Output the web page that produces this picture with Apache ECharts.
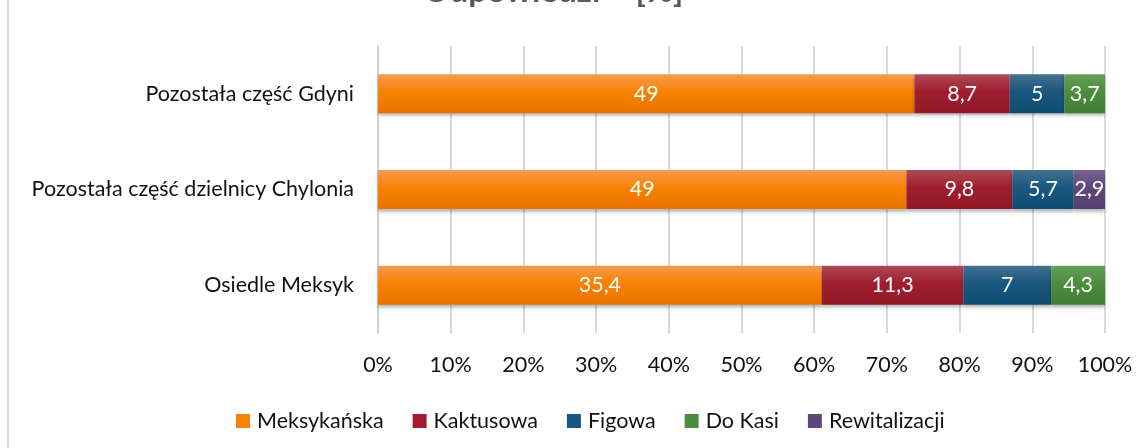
<!DOCTYPE html>
<html>
<head>
<meta charset="utf-8">
<script src="https://cdn.jsdelivr.net/npm/echarts@6/dist/echarts.min.js"></script>
<style>
  html, body { margin: 0; padding: 0; background: #fff; }
  #chart-container { width: 1146px; height: 448px; }
</style>
</head>
<body>
<div id="chart-container"></div>
<script>
// dane z wykresu (wartości w %)
const categories = ['Pozostała część Gdyni', 'Pozostała część dzielnicy Chylonia', 'Osiedle Meksyk'];
const seriesNames = ['Meksykańska', 'Kaktusowa', 'Figowa', 'Do Kasi', 'Rewitalizacji'];
const meksykanska = [49, 49, 35.4];
const kaktusowa = [8.7, 9.8, 11.3];
const figowa = [5, 5.7, 7];
const doKasi = [3.7, 0, 4.3];
const rewitalizacji = [0, 2.9, 0];
const xTicks = [0, 10, 20, 30, 40, 50, 60, 70, 80, 90, 100];

// kolory w stylu Excela: jaśniejsza góra, ciemniejszy dół
const colors = [
  ['#F89A52', '#F98100', '#E97300'],
  ['#AC4B58', '#A01D2D', '#931A28'],
  ['#46708F', '#18577F', '#114D72'],
  ['#65A05B', '#4D8C3D', '#427D35'],
  ['#7A6394', '#5E4779', '#54406E']
];

const raw = [meksykanska, kaktusowa, figowa, doKasi, rewitalizacji];
const totals = categories.map((c, i) => raw.reduce((s, arr) => s + arr[i], 0));

function grad(c) {
  return new echarts.graphic.LinearGradient(0, 0, 0, 1, [
    { offset: 0, color: c[0] },
    { offset: 0.45, color: c[1] },
    { offset: 1, color: c[2] }
  ]);
}

const font = 'Lato, "Open Sans", sans-serif';
const fs = 21.5;

const series = seriesNames.map((name, k) => ({
  name: name,
  type: 'bar',
  stack: 'total',
  barWidth: 39,
  itemStyle: {
    color: grad(colors[k]),
    shadowColor: 'rgba(0,0,0,0.28)',
    shadowBlur: 3,
    shadowOffsetY: 3
  },
  label: {
    show: true,
    position: 'inside',
    color: '#fff',
    fontFamily: font,
    fontSize: fs,
    formatter: p => raw[k][p.dataIndex] ? String(raw[k][p.dataIndex]).replace('.', ',') : ''
  },
  data: raw[k].map((v, i) => v ? v / totals[i] * 100 : null)
}));

const chartOption = {
  animation: false,
  title: {
    text: 'Odpowiedzi – [%]',
    left: 418,
    top: -30,
    textStyle: { fontFamily: font, fontSize: 33, fontWeight: 'bold', color: '#595959' }
  },
  legend: {
    data: seriesNames.map((n, k) => ({ name: n, itemStyle: { color: colors[k][1] } })),
    top: 410,
    left: 236,
    padding: 0,
    itemWidth: 14,
    itemHeight: 14,
    itemGap: 29,
    icon: 'rect',
    textStyle: { fontFamily: font, fontSize: fs, color: '#111', padding: [0, 0, 0, 2] }
  },
  grid: { left: 378, right: 41, top: 46, bottom: 115 },
  xAxis: {
    type: 'value',
    min: xTicks[0],
    max: xTicks[xTicks.length - 1],
    interval: 10,
    axisLine: { show: false },
    axisTick: { show: false },
    splitLine: { lineStyle: { color: '#D9D9D9', width: 2 } },
    axisLabel: { formatter: '{value}%', fontFamily: font, fontSize: fs, color: '#111', margin: 21 }
  },
  yAxis: {
    type: 'category',
    inverse: true,
    data: categories,
    axisLine: { lineStyle: { color: '#D0D0D0', width: 2 } },
    axisTick: { show: false },
    axisLabel: { fontFamily: font, fontSize: fs, color: '#111', margin: 24 }
  },
  graphic: [{
    type: 'rect',
    shape: { x: 7, y: 0, width: 2, height: 448 },
    style: { fill: '#D9D9D9' }
  }],
  series: series
};

const chartContainer = document.getElementById('chart-container');
const chart = echarts.init(chartContainer);
chart.setOption(chartOption);
</script>
</body>
</html>
